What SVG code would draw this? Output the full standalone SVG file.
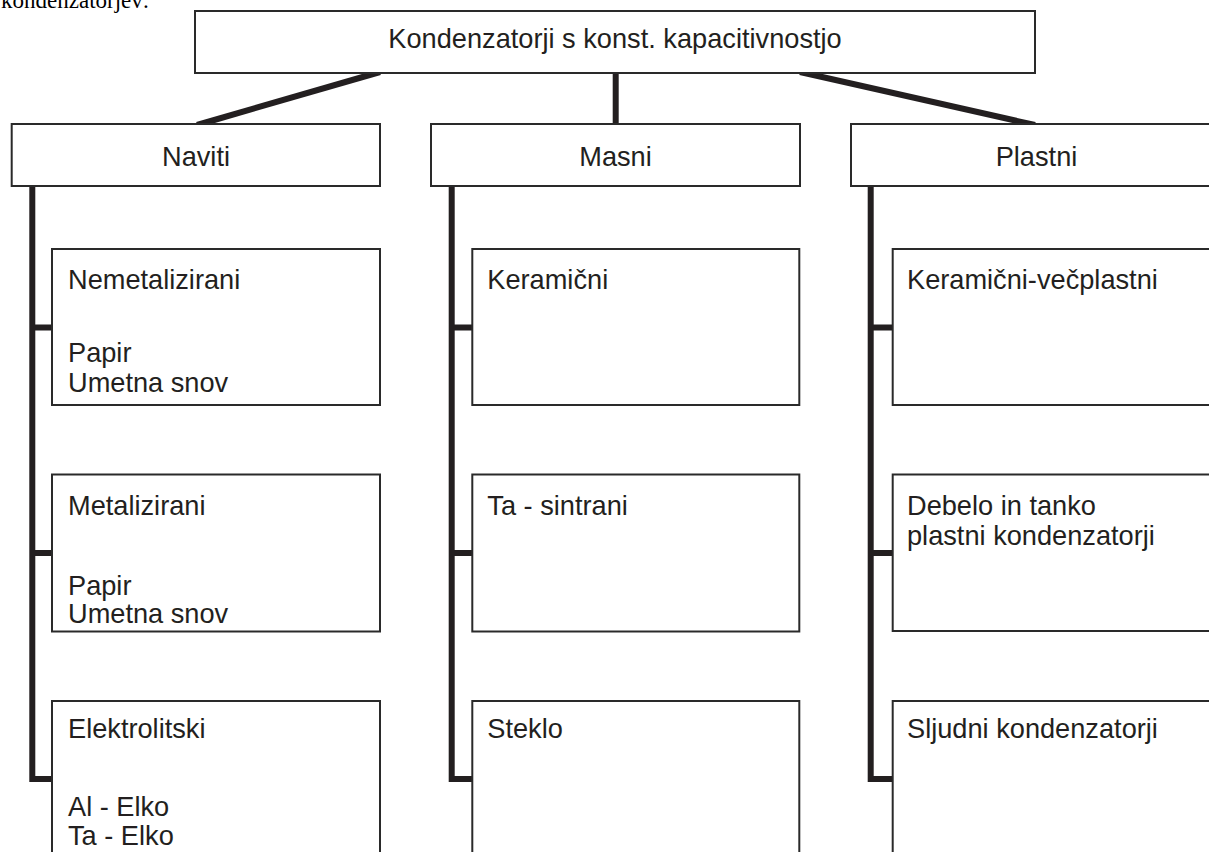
<svg xmlns="http://www.w3.org/2000/svg" width="1209" height="852" viewBox="0 0 1209 852">
<style>
.box{fill:#fff;stroke:#2a2a2a;stroke-width:2}
.t{font-family:"Liberation Sans",Arial,sans-serif;font-size:27.2px;fill:#231f20}
.c{text-anchor:middle}
.con{stroke:#231f20;stroke-width:6;fill:none;stroke-linecap:butt}
</style>
<rect width="1209" height="852" fill="#fff"/>
<text x="1" y="8" style="font-family:'Liberation Serif','Times New Roman',serif;font-size:23px;fill:#000">kondenzatorjev:</text>
<g id="connectors">
<line class="con" x1="380" y1="72" x2="197" y2="125"/>
<line class="con" x1="615.7" y1="73" x2="615.7" y2="124"/>
<line class="con" x1="800" y1="72" x2="1035" y2="125"/>
<path class="con" d="M32.3 186V779H52M32.3 327.5H52M32.3 553H52"/>
<path class="con" d="M451.7 186V779H472M451.7 327.5H472M451.7 553H472"/>
<path class="con" d="M870.7 186V779H893M870.7 327.5H893M870.7 553H893"/>
</g>
<g id="root"><rect class="box" x="195" y="11" width="840" height="62"/><text class="t c" x="615" y="48">Kondenzatorji s konst. kapacitivnostjo</text></g>
<g id="naviti"><rect class="box" x="11.7" y="124" width="368.3" height="62"/><text class="t c" x="196" y="165.5">Naviti</text></g>
<g id="masni"><rect class="box" x="431" y="124" width="369" height="62"/><text class="t c" x="615.5" y="165.5">Masni</text></g>
<g id="plastni"><rect class="box" x="851" y="124" width="371" height="62"/><text class="t c" x="1036.5" y="165.5">Plastni</text></g>
<g id="nemetalizirani"><rect class="box" x="52" y="249" width="328" height="156"/><text class="t" x="68" y="289.3">Nemetalizirani</text><text class="t" x="68" y="361.7">Papir</text><text class="t" x="68" y="391.7">Umetna snov</text></g>
<g id="metalizirani"><rect class="box" x="52" y="474.5" width="328" height="157"/><text class="t" x="68" y="515">Metalizirani</text><text class="t" x="68" y="595">Papir</text><text class="t" x="68" y="623">Umetna snov</text></g>
<g id="elektrolitski"><rect class="box" x="52" y="701" width="328" height="170"/><text class="t" x="68" y="738.3">Elektrolitski</text><text class="t" x="68" y="816">Al - Elko</text><text class="t" x="68" y="845">Ta - Elko</text></g>
<g id="keramicni"><rect class="box" x="472.3" y="249" width="327" height="156"/><text class="t" x="487.3" y="289.3">Keramični</text></g>
<g id="ta-sintrani"><rect class="box" x="472.3" y="474.5" width="327" height="157"/><text class="t" x="487.3" y="515">Ta - sintrani</text></g>
<g id="steklo"><rect class="box" x="472.3" y="701" width="327" height="170"/><text class="t" x="487.3" y="738.3">Steklo</text></g>
<g id="keramicni-vecplastni"><rect class="box" x="892.7" y="249" width="340" height="156"/><text class="t" x="907" y="289.3">Keramični-večplastni</text></g>
<g id="debelo-tanko"><rect class="box" x="892.7" y="474.5" width="340" height="156.5"/><text class="t" x="907" y="515">Debelo in tanko</text><text class="t" x="907" y="545">plastni kondenzatorji</text></g>
<g id="sljudni"><rect class="box" x="892.7" y="701" width="340" height="170"/><text class="t" x="907" y="738.3">Sljudni kondenzatorji</text></g>
</svg>
